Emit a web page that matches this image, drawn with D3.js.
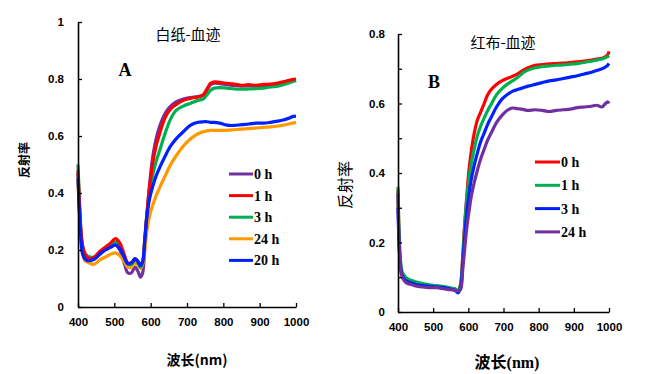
<!DOCTYPE html>
<html>
<head>
<meta charset="utf-8">
<script src="https://cdn.jsdelivr.net/npm/d3@7"></script>
<style>
  body { margin: 0; background: #fff; }
  svg { display: block; }
</style>
</head>
<body>
<svg id="chart" width="650" height="374"></svg>
<script>
// panel A: 白纸-血迹
const wlA = [400, 404, 408, 412, 418, 425, 435, 445, 460, 475, 490, 503, 515, 527, 537, 547, 557, 565, 572, 578,
  584, 590, 597, 605, 615, 625, 640, 655, 670, 690, 710, 730, 745, 755, 765, 775, 790, 810, 830, 850,
  870, 890, 910, 930, 950, 965, 980, 990, 1000];
const a0h = [0.47, 0.35, 0.26, 0.21, 0.18, 0.168, 0.165, 0.17, 0.185, 0.2, 0.21, 0.218, 0.2, 0.155, 0.12, 0.12, 0.14, 0.125, 0.105, 0.12,
  0.22, 0.33, 0.43, 0.52, 0.59, 0.635, 0.68, 0.705, 0.72, 0.73, 0.735, 0.738, 0.743, 0.76, 0.78, 0.785, 0.784, 0.78, 0.777, 0.775,
  0.776, 0.775, 0.777, 0.778, 0.78, 0.785, 0.79, 0.793, 0.795];
const a1h = [0.48, 0.36, 0.27, 0.22, 0.19, 0.175, 0.17, 0.175, 0.195, 0.21, 0.225, 0.24, 0.225, 0.185, 0.155, 0.155, 0.17, 0.16, 0.148, 0.16,
  0.24, 0.33, 0.42, 0.5, 0.565, 0.61, 0.665, 0.695, 0.71, 0.725, 0.732, 0.737, 0.745, 0.765, 0.785, 0.79, 0.788, 0.785, 0.782, 0.778,
  0.78, 0.778, 0.781, 0.782, 0.786, 0.79, 0.795, 0.798, 0.8];
const a3h = [0.5, 0.37, 0.27, 0.22, 0.19, 0.18, 0.175, 0.175, 0.19, 0.205, 0.215, 0.228, 0.215, 0.18, 0.15, 0.15, 0.165, 0.155, 0.14, 0.155,
  0.24, 0.33, 0.4, 0.46, 0.51, 0.55, 0.61, 0.66, 0.69, 0.705, 0.715, 0.725, 0.73, 0.745, 0.76, 0.768, 0.77, 0.768, 0.765, 0.764,
  0.765, 0.766, 0.768, 0.772, 0.775, 0.78, 0.786, 0.79, 0.795];
const a24h = [0.44, 0.33, 0.24, 0.19, 0.165, 0.158, 0.152, 0.15, 0.165, 0.175, 0.185, 0.19, 0.18, 0.16, 0.14, 0.14, 0.155, 0.148, 0.135, 0.15,
  0.2, 0.27, 0.32, 0.355, 0.39, 0.42, 0.46, 0.5, 0.53, 0.565, 0.59, 0.608, 0.615, 0.618, 0.62, 0.62, 0.62, 0.62, 0.622, 0.624,
  0.626, 0.628, 0.63, 0.632, 0.635, 0.638, 0.642, 0.645, 0.648];
const a20h = [0.45, 0.33, 0.24, 0.19, 0.17, 0.163, 0.163, 0.168, 0.185, 0.2, 0.21, 0.218, 0.205, 0.175, 0.152, 0.155, 0.17, 0.16, 0.145, 0.16,
  0.24, 0.32, 0.38, 0.42, 0.46, 0.49, 0.53, 0.565, 0.59, 0.615, 0.638, 0.648, 0.65, 0.65, 0.648, 0.648, 0.645, 0.638, 0.637, 0.64,
  0.642, 0.645, 0.645, 0.648, 0.652, 0.656, 0.662, 0.668, 0.67];
const labelsA = ["0 h", "1 h", "3 h", "24 h", "20 h"];

// panel B: 红布-血迹
const wlB = [400, 403, 407, 412, 418, 425, 435, 450, 470, 490, 510, 530, 550, 562, 571, 578, 584, 590, 596, 602,
  608, 615, 625, 635, 645, 655, 665, 680, 695, 710, 725, 740, 755, 770, 790, 810, 830, 850, 870, 890,
  910, 930, 950, 965, 980, 990, 996, 1000];
const b0h = [0.35, 0.22, 0.14, 0.11, 0.1, 0.092, 0.087, 0.082, 0.077, 0.075, 0.073, 0.07, 0.067, 0.066, 0.06, 0.08, 0.16, 0.26, 0.34, 0.41,
  0.46, 0.505, 0.55, 0.575, 0.6, 0.625, 0.64, 0.655, 0.665, 0.672, 0.678, 0.685, 0.695, 0.703, 0.71, 0.712, 0.714, 0.715, 0.716, 0.718,
  0.72, 0.722, 0.725, 0.728, 0.73, 0.735, 0.74, 0.75];
const b1h = [0.36, 0.23, 0.15, 0.115, 0.105, 0.097, 0.092, 0.087, 0.082, 0.078, 0.076, 0.073, 0.069, 0.067, 0.062, 0.08, 0.15, 0.25, 0.33, 0.385,
  0.425, 0.46, 0.505, 0.535, 0.558, 0.58, 0.598, 0.625, 0.642, 0.655, 0.665, 0.675, 0.688, 0.696, 0.703, 0.706, 0.708, 0.71, 0.711, 0.713,
  0.715, 0.718, 0.722, 0.725, 0.728, 0.732, 0.735, 0.738];
const b3h = [0.3, 0.2, 0.13, 0.105, 0.095, 0.088, 0.085, 0.08, 0.076, 0.074, 0.072, 0.07, 0.066, 0.062, 0.055, 0.07, 0.14, 0.22, 0.29, 0.34,
  0.38, 0.415, 0.455, 0.49, 0.515, 0.54, 0.56, 0.59, 0.612, 0.625, 0.635, 0.64, 0.645, 0.65, 0.655, 0.66, 0.665, 0.668, 0.672, 0.676,
  0.68, 0.685, 0.69, 0.695, 0.7, 0.705, 0.71, 0.715];
const b24h = [0.34, 0.2, 0.13, 0.1, 0.09, 0.083, 0.08, 0.075, 0.072, 0.07, 0.07, 0.067, 0.064, 0.063, 0.06, 0.065, 0.12, 0.185, 0.245, 0.29,
  0.33, 0.365, 0.405, 0.44, 0.468, 0.495, 0.515, 0.545, 0.565, 0.58, 0.587, 0.585, 0.583, 0.58, 0.582, 0.58, 0.577, 0.58, 0.582, 0.584,
  0.588, 0.59, 0.592, 0.595, 0.59, 0.6, 0.605, 0.6];
const labelsB = ["0 h", "1 h", "3 h", "24 h"];

const purple = "#7030A0", red = "#FF0000", green = "#00B050", orange = "#FF9900", blue = "#0020FF";

const svg = d3.select("#chart");

function drawPanel(opt) {
  const x = d3.scaleLinear().domain([400, 1000]).range(opt.xr);
  const y = d3.scaleLinear().domain([0, opt.ymax]).range(opt.yr);
  const g = svg.append("g");

  const line = d3.line()
    .curve(d3.curveCatmullRom.alpha(0.5))
    .x(d => x(d[0]))
    .y(d => y(d[1]));

  // curves, drawn in the given order
  opt.series.forEach(s => {
    g.append("path")
      .datum(opt.wl.map((w, i) => [w, s.values[i]]))
      .attr("fill", "none")
      .attr("stroke", s.color)
      .attr("stroke-width", 3.2)
      .attr("stroke-linejoin", "round")
      .attr("d", line);
  });

  const yAxis = d3.axisLeft(y)
    .tickValues(opt.yTicks)
    .tickSizeInner(-4)
    .tickSizeOuter(0)
    .tickPadding(opt.yPad)
    .tickFormat(d => opt.yLabels.includes(d) ? d3.format("~g")(d) : "");
  const xAxis = d3.axisBottom(x)
    .tickValues(d3.range(400, 1001, 100))
    .tickSizeInner(-4)
    .tickSizeOuter(0)
    .tickPadding(11)
    .tickFormat(d3.format("d"));

  const ya = g.append("g").attr("transform", `translate(${opt.xr[0]},0)`).call(yAxis);
  const xa = g.append("g").attr("transform", `translate(0,${opt.yr[0]})`).call(xAxis);
  [ya, xa].forEach(a => {
    a.select(".domain").attr("stroke", "#000").attr("stroke-width", 1.6);
    a.selectAll(".tick line").attr("stroke", "#000").attr("stroke-width", 1.3);
    a.selectAll("text")
      .attr("fill", "#000")
      .style("font-family", "'Liberation Sans', Arial, sans-serif")
      .style("font-weight", "bold")
      .style("font-size", "11.5px");
  });

  // titles
  g.append("text")
    .attr("x", opt.title[1]).attr("y", opt.title[2])
    .attr("text-anchor", "middle").attr("dy", "0.35em")
    .style("font-family", "'Noto Sans CJK SC', sans-serif")
    .style("font-size", "15px")
    .text(opt.title[0]);
  g.append("text")
    .attr("x", opt.letter[1]).attr("y", opt.letter[2])
    .attr("text-anchor", "middle").attr("dy", "0.35em")
    .style("font-family", "'Liberation Serif', 'Times New Roman', serif")
    .style("font-weight", "bold")
    .style("font-size", "18px")
    .text(opt.letter[0]);

  const xt = g.append("text")
    .attr("x", opt.xTitle[0]).attr("y", opt.xTitle[1])
    .attr("text-anchor", "middle").attr("dy", "0.35em")
    .style("font-weight", "bold")
    .style("font-size", opt.xTitleSize);
  xt.append("tspan").style("font-family", "'Noto Sans CJK SC', sans-serif").text("波长");
  xt.append("tspan").style("font-family", opt.xTitleFont).text("(nm)");

  g.append("text")
    .attr("transform", `translate(${opt.yTitle[0]},${opt.yTitle[1]}) rotate(-90)`)
    .attr("text-anchor", "middle").attr("dy", "0.35em")
    .style("font-family", "'Noto Sans CJK SC', sans-serif")
    .style("font-weight", opt.yTitleWeight)
    .style("font-size", opt.yTitleSize)
    .text("反射率");

  // legend
  const lg = g.append("g");
  opt.legend.labels.forEach((lab, i) => {
    const s = opt.legend.colors[i];
    const yy = opt.legend.y0 + i * opt.legend.dy;
    lg.append("line")
      .attr("x1", opt.legend.x0).attr("x2", opt.legend.x0 + opt.legend.len)
      .attr("y1", yy).attr("y2", yy)
      .attr("stroke", s).attr("stroke-width", 3);
    lg.append("text")
      .attr("x", opt.legend.x0 + opt.legend.len + 1).attr("y", yy)
      .attr("dy", "0.35em")
      .style("font-family", "'Liberation Serif', 'Times New Roman', serif")
      .style("font-weight", "bold")
      .style("font-size", "14px")
      .text(lab);
  });
}

drawPanel({
  wl: wlA,
  xr: [78, 296], yr: [307, 22], ymax: 1,
  yTicks: [0, 0.2, 0.4, 0.6, 0.8, 1], yLabels: [0, 0.2, 0.4, 0.6, 0.8, 1], yPad: 14,
  series: [
    { values: a0h, color: purple },
    { values: a24h, color: orange },
    { values: a3h, color: green },
    { values: a1h, color: red },
    { values: a20h, color: blue }
  ],
  title: ["白纸-血迹", 188, 35],
  letter: ["A", 125, 70],
  xTitle: [197, 360], xTitleFont: "'Noto Sans CJK SC', sans-serif", xTitleSize: "14px",
  yTitle: [25, 160], yTitleWeight: "bold", yTitleSize: "12px",
  legend: { labels: labelsA, colors: [purple, red, green, orange, blue], x0: 229, len: 24, y0: 174, dy: 21.6 }
});

drawPanel({
  wl: wlB,
  xr: [398, 609], yr: [312, 34], ymax: 0.8,
  yTicks: [0, 0.1, 0.2, 0.3, 0.4, 0.5, 0.6, 0.7, 0.8], yLabels: [0, 0.2, 0.4, 0.6, 0.8], yPad: 13,
  series: [
    { values: b0h, color: red },
    { values: b1h, color: green },
    { values: b3h, color: blue },
    { values: b24h, color: purple }
  ],
  title: ["红布-血迹", 503, 43],
  letter: ["B", 434, 82],
  xTitle: [507, 362], xTitleFont: "'Liberation Serif', 'Times New Roman', serif", xTitleSize: "16px",
  yTitle: [345, 185], yTitleWeight: "normal", yTitleSize: "16px",
  legend: { labels: labelsB, colors: [red, green, blue, purple], x0: 535, len: 25, y0: 162, dy: 23.3 }
});
</script>
</body>
</html>
